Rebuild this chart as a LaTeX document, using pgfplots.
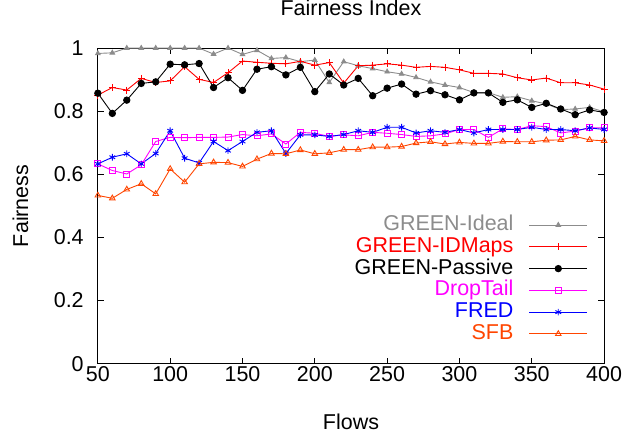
\documentclass[border=0pt]{standalone}
\usepackage{fontspec}
\setmainfont{Liberation Sans}
\usepackage{pgfplots}
\usepackage{pgfplotstable}
\pgfplotsset{compat=1.18}
\definecolor{cgray}{RGB}{140,140,140}
\definecolor{corange}{RGB}{255,69,0}
\definecolor{cmag}{RGB}{255,0,255}
\definecolor{cblue}{RGB}{0,0,255}
\definecolor{cred}{RGB}{255,0,0}
\newcommand\fs{\fontsize{21.5bp}{25bp}\selectfont}
\pgfplotstableread{
x ideal idmaps passive droptail fred sfb
50 0.983 0.851 0.857 0.633 0.633 0.533
60 0.985 0.875 0.793 0.612 0.654 0.524
70 1.000 0.867 0.835 0.601 0.665 0.552
80 1.000 0.904 0.888 0.630 0.633 0.570
90 1.000 0.891 0.893 0.704 0.666 0.538
100 1.000 0.896 0.949 0.717 0.738 0.617
110 1.000 0.941 0.947 0.716 0.651 0.575
120 1.000 0.901 0.951 0.717 0.636 0.633
130 0.981 0.891 0.875 0.717 0.704 0.638
140 1.000 0.922 0.906 0.718 0.675 0.637
150 0.980 0.959 0.866 0.726 0.704 0.625
160 0.993 0.955 0.933 0.722 0.733 0.648
170 0.967 0.952 0.941 0.728 0.738 0.666
180 0.970 0.950 0.915 0.696 0.666 0.665
190 0.957 0.958 0.939 0.733 0.725 0.677
200 0.962 0.946 0.862 0.730 0.725 0.665
210 0.891 0.954 0.918 0.720 0.720 0.668
220 0.957 0.889 0.883 0.725 0.726 0.678
230 0.944 0.944 0.904 0.722 0.738 0.678
240 0.935 0.946 0.849 0.733 0.733 0.686
250 0.925 0.950 0.873 0.730 0.749 0.686
260 0.918 0.946 0.886 0.726 0.749 0.688
270 0.907 0.939 0.854 0.720 0.731 0.699
280 0.893 0.942 0.865 0.722 0.738 0.703
290 0.883 0.939 0.852 0.728 0.733 0.696
300 0.875 0.931 0.836 0.742 0.742 0.701
310 0.859 0.920 0.858 0.742 0.731 0.698
320 0.859 0.920 0.858 0.717 0.742 0.698
330 0.844 0.918 0.828 0.744 0.742 0.704
340 0.846 0.906 0.836 0.742 0.742 0.703
350 0.833 0.899 0.812 0.754 0.749 0.703
360 0.823 0.905 0.825 0.751 0.742 0.708
370 0.805 0.890 0.807 0.731 0.742 0.709
380 0.807 0.890 0.789 0.737 0.738 0.720
390 0.812 0.883 0.804 0.747 0.747 0.709
400 0.798 0.870 0.796 0.747 0.742 0.706
}\data
\begin{document}
\begin{tikzpicture}
\begin{axis}[name=ax, scale only axis, width=507bp, height=316bp,
  xmin=50, xmax=400, ymin=0, ymax=1,
  xtick={50,100,150,200,250,300,350,400},
  ytick={0,0.2,0.4,0.6,0.8,1},
  yticklabels={0,0.2,0.4,0.6,0.8,1},
  tick align=inside, major tick length=6bp,
  axis line style={line width=1.1bp},
  tick style={line width=1bp, black},
  /pgf/number format/assume math mode=true,
  /pgf/number format/1000 sep={},
  xticklabel style={font=\fs, anchor=north, inner sep=0pt, yshift=-2.5bp},
  yticklabel style={font=\fs, anchor=east, inner sep=0pt, xshift=-14bp},
  title={Fairness Index},
  title style={at={(0.5,1.0842)}, anchor=base, font=\fs, inner sep=0pt},
  xlabel={Flows},
  xlabel style={at={(0.5,-0.2089)}, anchor=base, font=\fs, inner sep=0pt},
  ylabel={Fairness},
  ylabel style={at={(-0.1375,0.5)}, anchor=base, font=\fs, inner sep=0pt},
  clip=false,
  legend plot pos=right,
  legend cell align=right,
  legend image code/.code={\draw[mark repeat=2,mark phase=2,#1] plot coordinates {(0bp,0bp) (29bp,0bp) (58bp,0bp)};},
  legend style={draw=none, fill=none, at={(0.968,0.059)}, anchor=south east,
    font=\fs, inner sep=0pt, row sep=0bp,
    nodes={text height=14.8bp, text depth=4bp, inner sep=1.5bp},
    /tikz/column 1/.style={column sep=14bp}},
]
\addplot[cgray, line width=0.9bp, mark=triangle*, mark size=2.6bp, mark options={fill=cgray}] table[x=x,y=ideal]{\data};
\addlegendentry{\textcolor{cgray}{GREEN-Ideal}}
\addplot[cred, line width=0.9bp, mark=+, mark size=3.5bp] table[x=x,y=idmaps]{\data};
\addlegendentry{\textcolor{cred}{GREEN-IDMaps}}
\addplot[black, line width=0.9bp, mark=*, mark size=3.2bp] table[x=x,y=passive]{\data};
\addlegendentry{\textcolor{black}{GREEN-Passive}}
\addplot[cmag, line width=0.9bp, mark=square, mark size=3bp] table[x=x,y=droptail]{\data};
\addlegendentry{\textcolor{cmag}{DropTail}}
\addplot[cblue, line width=0.9bp, mark=asterisk, mark size=3.3bp] table[x=x,y=fred]{\data};
\addlegendentry{\textcolor{cblue}{FRED}}
\addplot[corange, line width=0.9bp, mark=triangle, mark size=3.2bp] table[x=x,y=sfb]{\data};
\addlegendentry{\textcolor{corange}{SFB}}
\end{axis}
\path ([xshift=-98bp,yshift=-70.7bp]ax.south west) rectangle ([xshift=17bp,yshift=47.3bp]ax.north east);
\end{tikzpicture}
\end{document}
